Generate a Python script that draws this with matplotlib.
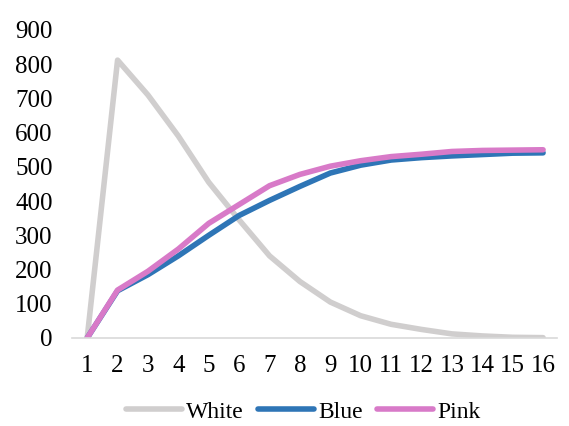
import matplotlib
matplotlib.use("Agg")
from matplotlib import pyplot as plt

# --------------------- дані ----------------------
x = list(range(1, 17))
white = [0, 812, 710, 590, 455, 345, 240, 165, 105, 65, 40, 25, 12, 6, 2, 1]
blue = [0, 138, 185, 240, 300, 358, 402, 443, 482, 505, 520, 527, 532, 536, 540, 541]
pink = [0, 140, 195, 260, 335, 390, 445, 478, 502, 518, 530, 537, 545, 548, 549, 550]

plt.rcParams['font.family'] = ['Liberation Serif', 'DejaVu Serif']

fig = plt.figure(figsize=(5.69, 4.26), dpi=100)
ax = fig.add_axes([0.1265, 0.2066, 0.8525, 0.723])

ax.plot(x, white, color='#d0cece', lw=4, label='White', solid_capstyle='round')
ax.plot(x, blue, color='#2e75b6', lw=4, label='Blue', solid_capstyle='round')
ax.plot(x, pink, color='#d87ac8', lw=4, label='Pink', solid_capstyle='round')

ax.set_xlim(0.5, 16.46)
ax.set_ylim(0, 900)
ax.set_yticks(range(0, 901, 100))
ax.set_xticks(x)
for s in ['top', 'right', 'left']:
    ax.spines[s].set_visible(False)
ax.spines['bottom'].set_color('#d9d9d9')
ax.spines['bottom'].set_linewidth(1.2)
ax.tick_params(length=0, labelsize=18, colors='black')
ax.tick_params(axis='x', pad=12)
ax.tick_params(axis='y', pad=14)

ax.legend(loc='center', bbox_to_anchor=(0.476, -0.24), ncol=3, frameon=False,
          fontsize=17, handlelength=2.4, handletextpad=0.15, columnspacing=0.6)

fig.savefig('out.png', dpi=100)
